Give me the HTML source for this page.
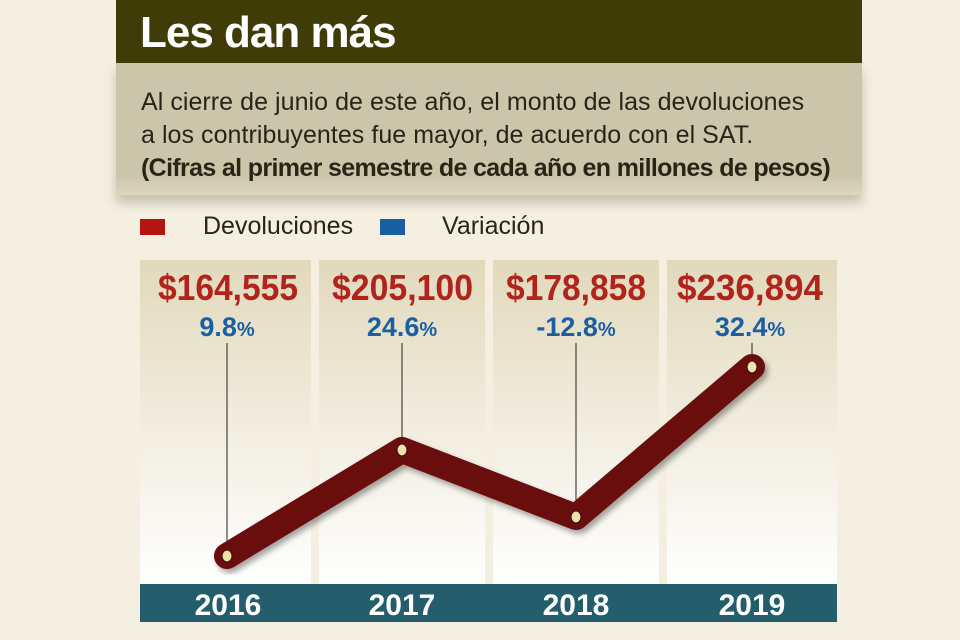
<!DOCTYPE html>
<html><head><meta charset="utf-8"><style>
body{margin:0;width:960px;height:640px;background:#f4efe0;position:relative;overflow:hidden;font-family:"Liberation Sans",sans-serif}
.a{position:absolute}
</style></head><body>
<div class="a" style="left:116px;top:0;width:746px;height:63px;background:#403c08"></div>
<div class="a" style="left:140px;top:8px;color:#fff;font-weight:bold;font-size:44px;letter-spacing:-1px">Les dan más</div>
<div class="a" style="left:116px;top:63px;width:746px;height:132px;background:linear-gradient(#cbc5a9,#cbc5a9 85%,#ddd7c0);box-shadow:0 8px 10px rgba(120,110,80,0.35)"></div>
<div class="a" style="left:141px;top:86px;color:#2a2418;font-size:25px;line-height:33px;letter-spacing:0.05px">Al cierre de junio de este año, el monto de las devoluciones<br>a los contribuyentes fue mayor, de acuerdo con el SAT.<br><b style="letter-spacing:-0.65px">(Cifras al primer semestre de cada año en millones de pesos)</b></div>
<div class="a" style="left:140px;top:219px;width:25px;height:16px;background:#b5150f"></div>
<div class="a" style="left:203px;top:212px;font-size:25px;color:#2a2418">Devoluciones</div>
<div class="a" style="left:380px;top:219px;width:25px;height:16px;background:#1a5ea3"></div>
<div class="a" style="left:442px;top:212px;font-size:25px;color:#2a2418">Variación</div>
<svg class="a" style="left:0;top:0" width="960" height="640">
<defs><linearGradient id="g" x1="0" y1="0" x2="0" y2="1"><stop offset="0" stop-color="#e2d9bc"/><stop offset="1" stop-color="#ffffff"/></linearGradient>
<filter id="s"><feDropShadow dx="3" dy="4" stdDeviation="3" flood-opacity="0.35"/></filter></defs>
<rect x="140" y="260" width="171" height="324" fill="url(#g)"/>
<rect x="319" y="260" width="166" height="324" fill="url(#g)"/>
<rect x="493" y="260" width="166" height="324" fill="url(#g)"/>
<rect x="667" y="260" width="170" height="324" fill="url(#g)"/>
<g stroke="#222" stroke-width="1"><line x1="227" y1="343" x2="227" y2="556"/><line x1="402" y1="343" x2="402" y2="450"/><line x1="576" y1="343" x2="576" y2="517"/><line x1="752" y1="343" x2="752" y2="367"/></g>
<polyline points="227,556 402,450 576,517 752,367" fill="none" stroke="#6b0a0a" stroke-width="26" stroke-linejoin="round" stroke-linecap="round" filter="url(#s)"/>
<g fill="#efe2a6" stroke="#3a0a0a" stroke-width="1"><ellipse cx="227" cy="556" rx="5" ry="6"/><ellipse cx="402" cy="450" rx="5" ry="6"/><ellipse cx="576" cy="517" rx="5" ry="6"/><ellipse cx="752" cy="367" rx="5" ry="6"/></g>
<g font-weight="bold">
<g fill="#b2231c" font-size="36"><text x="158" y="300" textLength="140" lengthAdjust="spacingAndGlyphs">$164,555</text><text x="332" y="300" textLength="141" lengthAdjust="spacingAndGlyphs">$205,100</text><text x="506" y="300" textLength="140" lengthAdjust="spacingAndGlyphs">$178,858</text><text x="677" y="300" textLength="146" lengthAdjust="spacingAndGlyphs">$236,894</text></g>
<g fill="#1a5ea3" font-size="27" text-anchor="middle"><text x="227" y="336">9.8<tspan font-size="20">%</tspan></text><text x="402" y="336">24.6<tspan font-size="20">%</tspan></text><text x="576" y="336">-12.8<tspan font-size="20">%</tspan></text><text x="750" y="336">32.4<tspan font-size="20">%</tspan></text></g>
</g>
<rect x="140" y="584" width="697" height="38" fill="#245d6c"/>
<g font-weight="bold" fill="#fff" font-size="30" text-anchor="middle"><text x="228" y="615">2016</text><text x="402" y="615">2017</text><text x="576" y="615">2018</text><text x="752" y="615">2019</text></g>
</svg>
</body></html>
